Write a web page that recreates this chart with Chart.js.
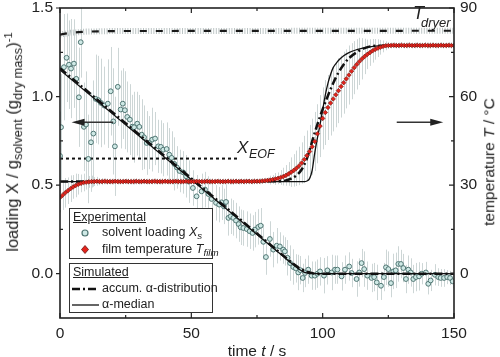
<!DOCTYPE html>
<html>
<head>
<meta charset="utf-8">
<script src="https://cdn.jsdelivr.net/npm/chart.js@4/dist/chart.umd.min.js"></script>
<style>
  html,body{margin:0;padding:0;background:#fff;}
  #wrap{position:relative;width:500px;height:357px;overflow:hidden;font-family:"Liberation Sans",Arial,sans-serif;color:#222;}
  canvas{position:absolute;left:0;top:0;}
  .lbl{position:absolute;white-space:nowrap;line-height:1;}
  .rot{transform:translate(-50%,-50%) rotate(-90deg);}
  .ctr{transform:translate(-50%,-50%);}
  .sb{font-size:0.78em;vertical-align:-0.3em;}
  .sp{font-size:0.68em;vertical-align:0.55em;}
  .box{position:absolute;border:1.4px solid #333;background:#fff;box-sizing:border-box;}
  .lg{position:absolute;white-space:nowrap;font-size:12.5px;line-height:1;}
  svg{position:absolute;overflow:visible;}
</style>
</head>
<body>
<div id="wrap">
  <canvas id="c" width="500" height="357"></canvas>

  <div class="lbl rot" style="left:14px;top:142px;font-size:16.5px;">loading X / g<span class="sb">solvent</span> (g<span class="sb">dry mass</span>)<span class="sp">-1</span></div>
  <div class="lbl rot" style="left:489px;top:162px;font-size:15.5px;">temperature <i>T</i> / °C</div>
  <div class="lbl ctr" style="left:257px;top:351px;font-size:15.5px;">time <i>t</i> / s</div>

  <div class="lbl" style="left:413px;top:4px;font-size:18px;"><i>T</i></div>
  <div class="lbl" style="left:421px;top:16px;font-size:13px;"><i>dryer</i></div>
  <div class="lbl" style="left:237px;top:139px;font-size:17px;"><i>X</i></div>
  <div class="lbl" style="left:249px;top:148px;font-size:12.5px;"><i>EOF</i></div>

  <div class="box" style="left:69px;top:208px;width:144px;height:51px;"></div>
  <div class="box" style="left:69px;top:263px;width:144px;height:50px;"></div>
  <div class="lg" style="left:73px;top:211px;text-decoration:underline;">Experimental</div>
  <svg style="left:0;top:0;width:1px;height:1px;">
    <circle cx="85" cy="233" r="3" fill="#cfe9e6" stroke="#4f7572" stroke-width="1.2"/>
    <polygon points="85,245.5 88.5,249.5 85,253.5 81.5,249.5" fill="#e3231b" stroke="#6a1510" stroke-width="0.8"/>
    <line x1="72" y1="289" x2="99" y2="289" stroke="#111" stroke-width="2.5" stroke-dasharray="8,3,2,3"/>
    <line x1="72" y1="305" x2="99" y2="305" stroke="#111" stroke-width="1.3"/>
  </svg>
  <div class="lg" style="left:102px;top:226px;">solvent loading <i>X</i><i class="sb">s</i></div>
  <div class="lg" style="left:102px;top:243px;">film temperature <i>T</i><i class="sb">film</i></div>
  <div class="lg" style="left:73px;top:266px;text-decoration:underline;">Simulated</div>
  <div class="lg" style="left:102px;top:282px;">accum. α-distribution</div>
  <div class="lg" style="left:102px;top:298px;">α-median</div>
</div>

<script>
// ---------- tick labels ----------
const timeTicks = [0, 50, 100, 150];
const loadTicks = [0.0, 0.5, 1.0, 1.5];
const tempTicks = [0, 30, 60, 90];
const timeMinor = [25, 75, 125];
const loadMinor = [0.25, 0.75, 1.25];
const tempMinor = [15, 45, 75];

// ---------- experimental solvent loading X_s ----------
const loadTime = [
  0.0, 0.4, 1.5, 2.5, 3.4, 4.2, 5.3, 6.2, 7.2, 7.9,
  9.1, 9.9, 10.8, 11.8, 12.7, 13.6, 14.6, 15.6, 16.9, 18.2,
  19.3, 20.3, 20.9, 22.0, 23.1, 23.9, 24.7, 25.6, 26.6, 27.5,
  28.2, 29.4, 30.2, 31.1, 32.0, 33.0, 34.0, 35.1, 36.2, 37.4,
  38.4, 39.3, 40.6, 41.6, 42.5, 43.5, 44.5, 45.5, 46.9, 48.0,
  49.0, 50.6, 52.0, 53.9, 55.2, 56.5, 57.7, 59.4, 60.6, 61.5,
  62.4, 63.2, 64.1, 65.0, 66.0, 67.0, 68.0, 68.8, 69.8, 71.1,
  72.2, 73.3, 74.2, 75.5, 76.4, 77.4, 78.4, 79.9, 81.2, 82.5,
  83.7, 85.0, 85.6, 86.6, 87.6, 88.8, 89.8, 90.7, 91.5, 92.4,
  93.3, 94.5, 95.8, 97.0, 98.0, 99.0, 100.5, 101.8, 103.4, 104.7,
  105.6, 107.2, 108.5, 110.1, 111.0, 112.9, 113.9, 114.8, 115.8, 117.0,
  118.6, 119.6, 120.6, 122.2, 123.3, 124.1, 125.0, 126.0, 126.9, 127.8,
  128.8, 129.8, 130.7, 131.7, 132.6, 133.5, 134.5, 135.5, 136.7, 137.7,
  139.3, 140.2, 141.1, 142.7, 144.0, 144.9, 146.2, 147.4, 148.5, 149.5
];
const loadValue = [
  0.665, 0.827, 1.166, 1.219, 1.180, 1.158, 1.186, 1.100, 0.996, 1.307,
  0.829, 0.842, 0.648, 0.742, 0.791, 0.987, 0.980, 0.964, 0.949, 0.960,
  1.030, 0.860, 0.719, 1.055, 0.927, 0.960, 0.923, 0.885, 0.870, 0.830,
  0.827, 0.847, 0.829, 0.785, 0.770, 0.738, 0.740, 0.757, 0.763, 0.719,
  0.716, 0.700, 0.704, 0.672, 0.654, 0.620, 0.600, 0.580, 0.572, 0.550,
  0.520, 0.484, 0.437, 0.465, 0.475, 0.450, 0.422, 0.400, 0.390, 0.403,
  0.380, 0.405, 0.315, 0.324, 0.315, 0.300, 0.280, 0.262, 0.258, 0.252,
  0.240, 0.230, 0.249, 0.264, 0.271, 0.180, 0.094, 0.196, 0.136, 0.158,
  0.154, 0.136, 0.126, 0.090, 0.060, 0.038, 0.030, 0.007, 0.020, -0.024,
  0.004, 0.023, -0.011, -0.011, 0.000, 0.013, -0.011, 0.019, 0.007, 0.023,
  0.023, -0.015, 0.023, 0.041, 0.004, -0.030, 0.007, 0.060, 0.026, -0.011,
  -0.024, -0.019, -0.049, -0.068, -0.019, 0.036, 0.026, -0.053, 0.013, 0.019,
  0.055, 0.055, 0.032, -0.030, 0.023, 0.007, -0.030, -0.019, -0.015, 0.000,
  0.007, -0.057, -0.038, -0.006, -0.019, -0.024, -0.024, -0.019, -0.024, -0.043
];
const loadError = [
  0.25, 0.30, 0.30, 0.25, 0.25, 0.28, 0.25, 0.25, 0.28, 0.20,
  0.25, 0.30, 0.25, 0.28, 0.30, 0.25, 0.25, 0.25, 0.22, 0.25,
  0.25, 0.30, 0.28, 0.22, 0.22, 0.20, 0.22, 0.20, 0.20, 0.18,
  0.20, 0.18, 0.18, 0.20, 0.18, 0.18, 0.15, 0.18, 0.15, 0.15,
  0.15, 0.15, 0.15, 0.15, 0.15, 0.15, 0.12, 0.12, 0.12, 0.12,
  0.12, 0.10, 0.12, 0.10, 0.10, 0.10, 0.10, 0.10, 0.10, 0.10,
  0.10, 0.10, 0.10, 0.10, 0.10, 0.10, 0.10, 0.10, 0.10, 0.10,
  0.10, 0.10, 0.10, 0.10, 0.10, 0.10, 0.10, 0.10, 0.10, 0.10,
  0.08, 0.08, 0.08, 0.10, 0.10, 0.10, 0.08, 0.10, 0.08, 0.08,
  0.08, 0.08, 0.08, 0.08, 0.08, 0.08, 0.10, 0.08, 0.10, 0.08,
  0.08, 0.08, 0.08, 0.08, 0.08, 0.10, 0.08, 0.08, 0.10, 0.08,
  0.08, 0.08, 0.10, 0.08, 0.08, 0.10, 0.10, 0.08, 0.10, 0.10,
  0.10, 0.08, 0.08, 0.08, 0.08, 0.08, 0.08, 0.08, 0.08, 0.06,
  0.06, 0.06, 0.06, 0.06, 0.05, 0.05, 0.05, 0.04, 0.04, 0.04
];

// ---------- experimental film temperature T_film (°C) ----------
const filmTime = [
  0, 1, 2, 3, 4, 5, 6, 7, 8, 9,
  10, 11, 12, 13, 14, 15, 16, 17, 18, 19,
  20, 21, 22, 23, 24, 25, 26, 27, 28, 29,
  30, 31, 32, 33, 34, 35, 36, 37, 38, 39,
  40, 41, 42, 43, 44, 45, 46, 47, 48, 49,
  50, 51, 52, 53, 54, 55, 56, 57, 58, 59,
  60, 61, 62, 63, 64, 65, 66, 67, 68, 69,
  70, 71, 72, 73, 74, 75, 76, 77, 78, 79,
  80, 81, 82, 83, 84, 85, 86, 87, 88, 89,
  90, 91, 92, 93, 94, 95, 96, 97, 98, 99,
  100, 101, 102, 103, 104, 105, 106, 107, 108, 109,
  110, 111, 112, 113, 114, 115, 116, 117, 118, 119,
  120, 121, 122, 123, 124, 125, 126, 127, 128, 129,
  130, 131, 132, 133, 134, 135, 136, 137, 138, 139,
  140, 141, 142, 143, 144, 145, 146, 147, 148, 149,
  150
];
const filmTemp = [
  25.8, 26.6, 27.4, 28.1, 28.8, 29.4, 29.9, 30.3, 30.6, 30.9,
  31.0, 31.1, 31.2, 31.2, 31.3, 31.2, 31.2, 31.3, 31.2, 31.2,
  31.2, 31.3, 31.2, 31.2, 31.2, 31.3, 31.2, 31.2, 31.2, 31.3,
  31.2, 31.2, 31.3, 31.2, 31.2, 31.2, 31.3, 31.2, 31.2, 31.2,
  31.3, 31.2, 31.2, 31.2, 31.3, 31.2, 31.2, 31.2, 31.3, 31.2,
  31.2, 31.2, 31.3, 31.2, 31.2, 31.2, 31.3, 31.2, 31.2, 31.2,
  31.3, 31.2, 31.2, 31.2, 31.3, 31.2, 31.2, 31.3, 31.2, 31.3,
  31.2, 31.3, 31.3, 31.2, 31.3, 31.3, 31.3, 31.4, 31.5, 31.6,
  31.7, 31.9, 32.1, 32.3, 32.6, 32.9, 33.3, 33.8, 34.4, 35.0,
  35.7, 36.5, 37.5, 38.7, 40.0, 41.4, 43.0, 44.8, 47.4, 50.0,
  52.6, 54.6, 56.3, 57.8, 59.2, 60.6, 62.0, 63.4, 64.7, 66.0,
  67.3, 68.6, 69.8, 70.9, 71.9, 72.8, 73.6, 74.3, 74.9, 75.5,
  76.0, 76.4, 76.7, 77.0, 77.2, 77.3, 77.3, 77.4, 77.3, 77.3,
  77.4, 77.3, 77.3, 77.4, 77.3, 77.3, 77.4, 77.3, 77.3, 77.4,
  77.3, 77.3, 77.4, 77.3, 77.3, 77.4, 77.3, 77.3, 77.4, 77.3,
  77.3
];
const filmError = [
  5, 5, 5, 4.5, 4.5, 4, 4, 3.5, 3, 3,
  2.5, 2, 2, 1.5, 1.5, 1.2, 1.2, 1, 1, 1,
  1, 1, 1, 1, 1, 1, 1, 1, 1, 1,
  1, 1, 1, 1, 1, 1, 1, 1, 1, 1,
  1, 1, 1, 1, 1, 1, 1, 1, 1, 1,
  1, 1, 1, 1, 1, 1, 1, 1, 1, 1,
  1, 1, 1, 1, 1, 1, 1, 1, 1, 1,
  1, 1, 1, 1, 1, 1, 1, 1, 1, 1,
  1.5, 1.5, 2, 2, 2.5, 3, 3.5, 4, 5, 5.5,
  6, 6.5, 7, 8, 8.5, 9, 9.5, 10, 10, 10.5,
  10.5, 11, 11, 11, 11, 11, 11, 10.5, 10.5, 10,
  10, 9.5, 9, 8.5, 8, 7, 6, 5, 4.5, 4,
  3.5, 3, 2.5, 2, 1.5, 1.2, 1, 1, 1, 1,
  1, 1, 1, 1, 1, 1, 1, 1, 1, 1,
  1, 1, 1, 1, 1, 1, 1, 1, 1, 1,
  1
];

// ---------- dryer temperature (°C) ----------
const dryerTime = [0, 2, 4, 7, 10, 15, 20, 150];
const dryerTemp = [81.0, 81.3, 81.6, 81.8, 82.0, 82.1, 82.2, 82.3];

// ---------- X_EOF ----------
const eofTime = [0, 68];
const eofValue = [0.65, 0.65];

// ---------- simulated loading ----------
const simMedLoadTime = [0, 88, 91, 93, 95, 150];
const simMedLoad = [1.15, 0.06, 0.025, 0.008, 0.0, 0.0];
const simAccLoadTime = [0, 88, 91, 94, 97, 150];
const simAccLoad = [1.16, 0.065, 0.032, 0.012, 0.0, 0.0];

// ---------- simulated temperature (°C) ----------
const simMedTempTime = [0, 93, 94, 95, 96, 97, 98, 99, 100, 101, 102, 103, 104, 105, 106, 108, 110, 113, 116, 120, 125, 150];
const simMedTemp = [31.2, 31.2, 31.4, 32.2, 35.0, 41.0, 46.0, 50.5, 55.5, 60.5, 64.5, 67.5, 69.8, 71.1, 72.2, 73.8, 74.9, 75.9, 76.6, 77.1, 77.3, 77.3];
const simAccTempTime = [0, 84, 86, 88, 90, 92, 94, 95, 96, 97, 98, 99, 100, 101, 102, 103, 104, 105, 106, 108, 110, 113, 116, 120, 150];
const simAccTemp = [31.2, 31.3, 31.6, 32.2, 33.3, 35.3, 39.0, 41.8, 44.8, 47.8, 50.6, 53.2, 55.7, 58.0, 60.3, 62.5, 64.5, 66.4, 68.1, 70.9, 73.0, 75.0, 76.4, 77.2, 77.3];

// ---------- annotation arrows (data units: time, loading) ----------
const arrowNotes = [
  {from: 20.3, to: 4.4, level: 0.855},
  {from: 128.2, to: 145.9, level: 0.855}
];

const FONT = '"Liberation Sans", Arial, sans-serif';
const pts = (xs, ys) => xs.map((x, i) => ({x: x, y: ys[i]}));

const decor = {
  id: 'decor',
  beforeDatasetsDraw(chart) {
    const ctx = chart.ctx, a = chart.chartArea;
    const sx = chart.scales.x, sy = chart.scales.y, st = chart.scales.y1;
    ctx.save();
    ctx.beginPath(); ctx.rect(a.left, a.top, a.right - a.left, a.bottom - a.top); ctx.clip();
    ctx.strokeStyle = '#cdd6d6'; ctx.lineWidth = 1;
    ctx.beginPath();
    loadTime.forEach((t, i) => {
      const x = Math.round(sx.getPixelForValue(t)) + 0.5;
      ctx.moveTo(x, sy.getPixelForValue(loadValue[i] - loadError[i]));
      ctx.lineTo(x, sy.getPixelForValue(loadValue[i] + loadError[i]));
    });
    filmTime.forEach((t, i) => {
      const x = Math.round(sx.getPixelForValue(t)) + 0.5;
      ctx.moveTo(x, st.getPixelForValue(filmTemp[i] - filmError[i]));
      ctx.lineTo(x, st.getPixelForValue(filmTemp[i] + filmError[i]));
    });
    ctx.stroke();
    ctx.restore();
  },
  afterDatasetsDraw(chart) {
    const ctx = chart.ctx, a = chart.chartArea;
    const sx = chart.scales.x, sy = chart.scales.y, st = chart.scales.y1;
    ctx.save();
    ctx.strokeStyle = '#333'; ctx.fillStyle = '#222'; ctx.lineWidth = 1.4;
    arrowNotes.forEach(n => {
      const x0 = sx.getPixelForValue(n.from), x1 = sx.getPixelForValue(n.to), y = sy.getPixelForValue(n.level);
      const dir = Math.sign(x1 - x0);
      ctx.beginPath(); ctx.moveTo(x0, y); ctx.lineTo(x1 - dir * 8, y); ctx.stroke();
      ctx.beginPath(); ctx.moveTo(x1, y); ctx.lineTo(x1 - dir * 13, y - 3.5); ctx.lineTo(x1 - dir * 13, y + 3.5); ctx.closePath(); ctx.fill();
    });
    ctx.strokeStyle = '#222'; ctx.lineWidth = 1.6;
    ctx.strokeRect(a.left, a.top, a.right - a.left, a.bottom - a.top);
    ctx.lineWidth = 1.2;
    ctx.beginPath();
    const tickX = (vals, len) => vals.forEach(v => {
      const x = sx.getPixelForValue(v);
      ctx.moveTo(x, a.bottom); ctx.lineTo(x, a.bottom - len);
      ctx.moveTo(x, a.top); ctx.lineTo(x, a.top + len);
    });
    tickX(timeTicks, 5); tickX(timeMinor, 3);
    loadTicks.forEach(v => { const y = sy.getPixelForValue(v); ctx.moveTo(a.left, y); ctx.lineTo(a.left - 4, y); });
    loadMinor.forEach(v => { const y = sy.getPixelForValue(v); ctx.moveTo(a.left, y); ctx.lineTo(a.left + 3, y); });
    tempTicks.forEach(v => { const y = st.getPixelForValue(v); ctx.moveTo(a.right, y); ctx.lineTo(a.right - 5, y); });
    tempMinor.forEach(v => { const y = st.getPixelForValue(v); ctx.moveTo(a.right, y); ctx.lineTo(a.right - 3, y); });
    ctx.stroke();
    ctx.restore();
  }
};

const fitV = w => s => { s.width = w; s.paddingTop = 8; s.paddingBottom = 0; };

new Chart(document.getElementById('c'), {
  type: 'scatter',
  data: {
    datasets: [
      {label: 'dryer band', data: pts(dryerTime, dryerTemp), yAxisID: 'y1', showLine: true, pointRadius: 0,
       borderColor: '#bcc5c5', borderWidth: 6, borderDash: [1, 1.6], order: 10},
      {label: 'T dryer', data: pts(dryerTime, dryerTemp), yAxisID: 'y1', showLine: true, pointRadius: 0,
       borderColor: '#1a1a1a', borderWidth: 2.2, borderDash: [7, 9], order: 9},
      {label: 'X EOF', data: pts(eofTime, eofValue), yAxisID: 'y', showLine: true, pointRadius: 0,
       borderColor: '#111', borderWidth: 2, borderDash: [3, 3], order: 8},
      {label: 'solvent loading', data: pts(loadTime, loadValue), yAxisID: 'y', showLine: false,
       pointStyle: 'circle', pointRadius: 2.4, backgroundColor: '#cfe9e6', borderColor: '#4f7572', borderWidth: 1, order: 7},
      {label: 'accum loading', data: pts(simAccLoadTime, simAccLoad), yAxisID: 'y', showLine: true, pointRadius: 0,
       borderColor: '#111', borderWidth: 2.5, borderDash: [8, 3, 2, 3], order: 6},
      {label: 'median loading', data: pts(simMedLoadTime, simMedLoad), yAxisID: 'y', showLine: true, pointRadius: 0,
       borderColor: '#111', borderWidth: 1.3, order: 5},
      {label: 'accum temp', data: pts(simAccTempTime, simAccTemp), yAxisID: 'y1', showLine: true, pointRadius: 0,
       borderColor: '#111', borderWidth: 2.5, borderDash: [8, 3, 2, 3], cubicInterpolationMode: 'monotone', order: 4},
      {label: 'median temp', data: pts(simMedTempTime, simMedTemp), yAxisID: 'y1', showLine: true, pointRadius: 0,
       borderColor: '#111', borderWidth: 1.3, cubicInterpolationMode: 'monotone', order: 3},
      {label: 'film temperature', data: pts(filmTime, filmTemp), yAxisID: 'y1', showLine: false,
       pointStyle: 'rectRot', pointRadius: 2.3, backgroundColor: '#e3231b', borderColor: '#6a1510', borderWidth: 0.6, order: 2}
    ]
  },
  options: {
    responsive: false,
    animation: false,
    devicePixelRatio: 1,
    layout: {padding: {top: 0, left: 0, right: 0, bottom: 0}},
    plugins: {legend: {display: false}, tooltip: {enabled: false}},
    scales: {
      x: {
        type: 'linear', min: 0, max: 150,
        afterBuildTicks: s => { s.ticks = timeTicks.map(v => ({value: v})); },
        afterFit: s => { s.height = 39; s.paddingLeft = 0; s.paddingRight = 0; },
        grid: {display: false, drawTicks: false}, border: {display: false},
        ticks: {padding: 6, color: '#222', font: {size: 15.5, family: FONT}, callback: v => String(v)}
      },
      y: {
        type: 'linear', position: 'left', min: -0.25, max: 1.5,
        afterBuildTicks: s => { s.ticks = loadTicks.map(v => ({value: v})); },
        afterFit: fitV(60),
        grid: {display: false, drawTicks: false}, border: {display: false},
        ticks: {padding: 7, color: '#222', font: {size: 15.5, family: FONT}, callback: v => Number(v).toFixed(1)}
      },
      y1: {
        type: 'linear', position: 'right', min: -15, max: 90,
        afterBuildTicks: s => { s.ticks = tempTicks.map(v => ({value: v})); },
        afterFit: fitV(46),
        grid: {display: false, drawTicks: false}, border: {display: false},
        ticks: {padding: 6, color: '#222', font: {size: 15.5, family: FONT}, callback: v => String(v)}
      }
    }
  },
  plugins: [decor]
});
</script>
</body>
</html>
